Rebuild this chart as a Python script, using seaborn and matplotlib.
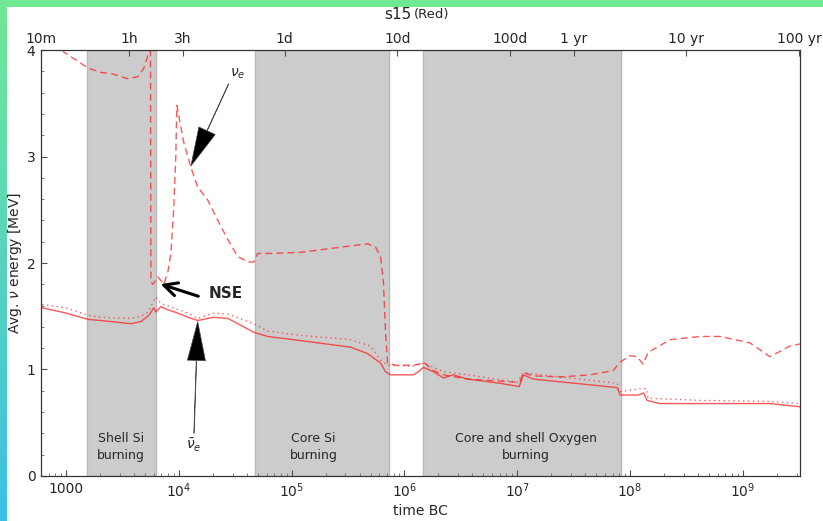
import numpy as np
import matplotlib
matplotlib.use("Agg")
import matplotlib.pyplot as plt
import seaborn as sns
from matplotlib.ticker import LogLocator, NullLocator, MultipleLocator

# valores (tempo antes do colapso em segundos, energia media em MeV)
t_nue = [614, 960, 1570, 2040, 2500, 3540, 4340, 4900, 5430, 5600, 5660, 5890, 6520,
         7360, 8000, 8500, 9030, 9400, 9600, 11070, 12770, 14730, 18060, 22150, 27170,
         33300, 40830, 46120, 50000, 65160, 1.202e5, 2.355e5, 4.707e5, 5.537e5, 6.134e5,
         6.517e5, 6.794e5, 7.083e5, 8.322e5, 1.202e6, 1.331e6, 1.473e6, 1.806e6, 2.214e6,
         3.612e6, 7.08e6, 1.0e7, 1.063e7, 1.13e7, 1.386e7, 2.404e7, 4.43e7, 7.08e7,
         8.16e7, 1.0e8, 1.154e8, 1.303e8, 1.443e8, 2.26e8, 4.16e8, 6.25e8, 1.153e9,
         1.733e9, 2.607e9, 3.19e9]
e_nue = [4.25, 3.98, 3.83, 3.79, 3.78, 3.73, 3.75, 3.83, 3.98, 4.10, 1.82, 1.80, 1.87,
         1.80, 1.92, 2.09, 2.53, 3.00, 3.48, 3.13, 2.90, 2.71, 2.59, 2.40, 2.22,
         2.06, 2.01, 2.01, 2.09, 2.09, 2.10, 2.14, 2.18, 2.15, 2.06,
         1.81, 1.34, 1.06, 1.04, 1.04, 1.05, 1.07, 0.99, 0.95,
         0.91, 0.89, 0.88, 0.89, 0.97, 0.94, 0.93, 0.95, 0.99,
         1.07, 1.13, 1.12, 1.05, 1.16, 1.28, 1.31, 1.31, 1.25,
         1.12, 1.22, 1.24]

t_nux = [614, 1000, 1570, 2040, 3760, 4610, 5320, 5890, 6260, 6930, 9400, 12020, 14730,
         20400, 27170, 46120, 61300, 1.202e5, 3.32e5, 5.0e5, 6.134e5, 7.083e5, 1.2e6,
         1.473e6, 2.214e6, 3.612e6, 1.0e7, 1.13e7, 2.4e7, 7.7e7, 7.9e7, 1.23e8, 1.39e8,
         1.443e8, 4.16e8, 1.733e9, 3.19e9]
e_nux = [1.61, 1.58, 1.51, 1.49, 1.48, 1.50, 1.54, 1.63, 1.68, 1.62, 1.57, 1.53, 1.48,
         1.53, 1.52, 1.43, 1.36, 1.32, 1.28, 1.22, 1.09, 1.04, 1.03,
         1.06, 0.98, 0.95, 0.88, 0.97, 0.93, 0.87, 0.79, 0.82, 0.82,
         0.73, 0.71, 0.70, 0.68]

t_anue = [614, 1000, 1570, 2040, 3760, 4610, 5440, 6000, 6260, 6930, 8000, 9800, 12020,
          14730, 18060, 20400, 27170, 46120, 61300, 1.04e5, 3.32e5, 4.707e5, 6.134e5,
          6.794e5, 7.5e5, 1.2e6, 1.331e6, 1.473e6, 1.806e6, 2.214e6, 2.7e6, 3.612e6,
          7.08e6, 1.04e7, 1.13e7, 1.386e7, 7.7e7, 8.16e7, 1.18e8, 1.32e8, 1.41e8,
          1.84e8, 1.733e9, 3.19e9]
e_anue = [1.58, 1.53, 1.47, 1.46, 1.43, 1.45, 1.51, 1.58, 1.54, 1.59, 1.56, 1.53, 1.49,
          1.46, 1.48, 1.49, 1.48, 1.35, 1.31, 1.28, 1.21, 1.15, 1.06,
          0.98, 0.95, 0.95, 0.98, 1.02, 0.98, 0.92, 0.95, 0.91,
          0.87, 0.84, 0.95, 0.91, 0.83, 0.76, 0.76, 0.78, 0.71,
          0.68, 0.68, 0.65]

# fases de queima (inicio, fim, rotulo)
fases_ini = [1534, 47100, 1.47e6]
fases_fim = [6260, 7.36e5, 8.3e7]
fases_txt = ["Shell Si\nburning", "Core Si\nburning", "Core and shell Oxygen\nburning"]
fases_pos = [3070, 1.567e5, 1.2e7]

# eixo de cima
top_ticks = [600, 3600, 10800, 86400, 864000, 8.64e6, 3.156e7, 3.156e8, 3.156e9]
top_labels = ["10m", "1h", "3h", "1d", "10d", "100d", "1 yr", "10 yr", "100 yr"]
bottom_ticks = [1e3, 1e4, 1e5, 1e6, 1e7, 1e8, 1e9]
bottom_labels = ["1000", "$10^4$", "$10^5$", "$10^6$", "$10^7$", "$10^8$", "$10^9$"]

sns.set_style("ticks", {"xtick.direction": "in", "ytick.direction": "in",
                        "axes.edgecolor": "0.2"})
plt.rcParams["font.family"] = ["DejaVu Sans"]
plt.rcParams["mathtext.fontset"] = "dejavusans"

fig = plt.figure(figsize=(8.23, 5.21), dpi=100)
ax = fig.add_axes([0.0498, 0.0864, 0.9222, 0.8176])
ax.set_xscale("log")

# faixas cinzas
for a, b, txt, xp in zip(fases_ini, fases_fim, fases_txt, fases_pos):
    ax.axvspan(a, b, facecolor="0.8", edgecolor="0.72", lw=1, zorder=0)
    ax.text(xp, 0.27, txt, ha="center", va="center", fontsize=9, color="0.15",
            linespacing=1.35)

cor = "#ff2020"
sns.lineplot(x=t_nue, y=e_nue, ax=ax, sort=False, estimator=None, color=cor,
             alpha=0.75, lw=1, linestyle=(0, (5, 3)))
sns.lineplot(x=t_nux, y=e_nux, ax=ax, sort=False, estimator=None, color=cor,
             alpha=0.7, lw=1, linestyle=(0, (1, 2.5)))
sns.lineplot(x=t_anue, y=e_anue, ax=ax, sort=False, estimator=None, color=cor,
             alpha=0.75, lw=1, linestyle="-")

ax.set_xlim(600, 3.2e9)
ax.set_ylim(0, 4)
ax.set_xticks(bottom_ticks)
ax.set_xticklabels(bottom_labels)
ax.xaxis.set_minor_locator(LogLocator(base=10, subs=np.arange(2, 10)))
ax.yaxis.set_major_locator(MultipleLocator(1))
ax.yaxis.set_minor_locator(MultipleLocator(0.2))
ax.tick_params(which="major", length=4, width=0.8, labelsize=10, color="0.3", pad=4)
ax.tick_params(which="minor", length=2, width=0.6, color="0.4")
ax.tick_params(axis="x", which="both", top=False)
ax.tick_params(axis="y", which="both", right=False)
ax.set_xlabel("time BC", fontsize=10, labelpad=3)
ax.set_ylabel(r"Avg. $\nu$ energy [MeV]", fontsize=10, labelpad=2)

# eixo superior com unidades de tempo
ax2 = ax.twiny()
ax2.set_xscale("log")
ax2.set_xlim(ax.get_xlim())
ax2.set_xticks(top_ticks)
ax2.set_xticklabels(top_labels)
ax2.xaxis.set_minor_locator(NullLocator())
ax2.tick_params(axis="x", direction="in", length=4, width=0.8, color="0.3",
                labelsize=10, pad=3)

# anotacoes
ax.annotate(r"$\nu_e$", xy=(12770, 2.91), xytext=(33300, 3.78), fontsize=10,
            ha="center", va="center",
            arrowprops=dict(facecolor="black", edgecolor="0.3", width=0.3,
                            headwidth=13, headlength=28, shrink=0.0, lw=0.5))
ax.annotate(r"$\bar{\nu}_e$", xy=(14700, 1.45), xytext=(13600, 0.29), fontsize=10,
            ha="center", va="center",
            arrowprops=dict(facecolor="black", edgecolor="0.3", width=0.3,
                            headwidth=13, headlength=28, shrink=0.0, lw=0.5))
ax.annotate("", xy=(6520, 1.81), xytext=(15700, 1.68),
            arrowprops=dict(arrowstyle="->", color="black", lw=2.2, mutation_scale=24))
ax.text(18500, 1.71, "NSE", fontsize=11, fontweight="bold", va="center", ha="left")

fig.text(0.5, 0.972, "s15", ha="right", va="center", fontsize=11)
fig.text(0.503, 0.972, "(Red)", ha="left", va="center", fontsize=9.5)

# moldura colorida
top = fig.add_axes([0, 1 - 7 / 521, 1, 7 / 521])
top.set_axis_off()
top.add_patch(plt.Rectangle((0, 0), 1, 1, color="#70e894", transform=top.transAxes))
left = fig.add_axes([0, 0, 7 / 823, 1])
left.set_axis_off()
grad = np.linspace(0, 1, 256).reshape(-1, 1)
cmap = matplotlib.colors.LinearSegmentedColormap.from_list("borda", ["#3ec0e6", "#70e894"])
left.imshow(grad, aspect="auto", cmap=cmap, origin="lower", extent=[0, 1, 0, 1])

fig.savefig("out.png", dpi=100)
